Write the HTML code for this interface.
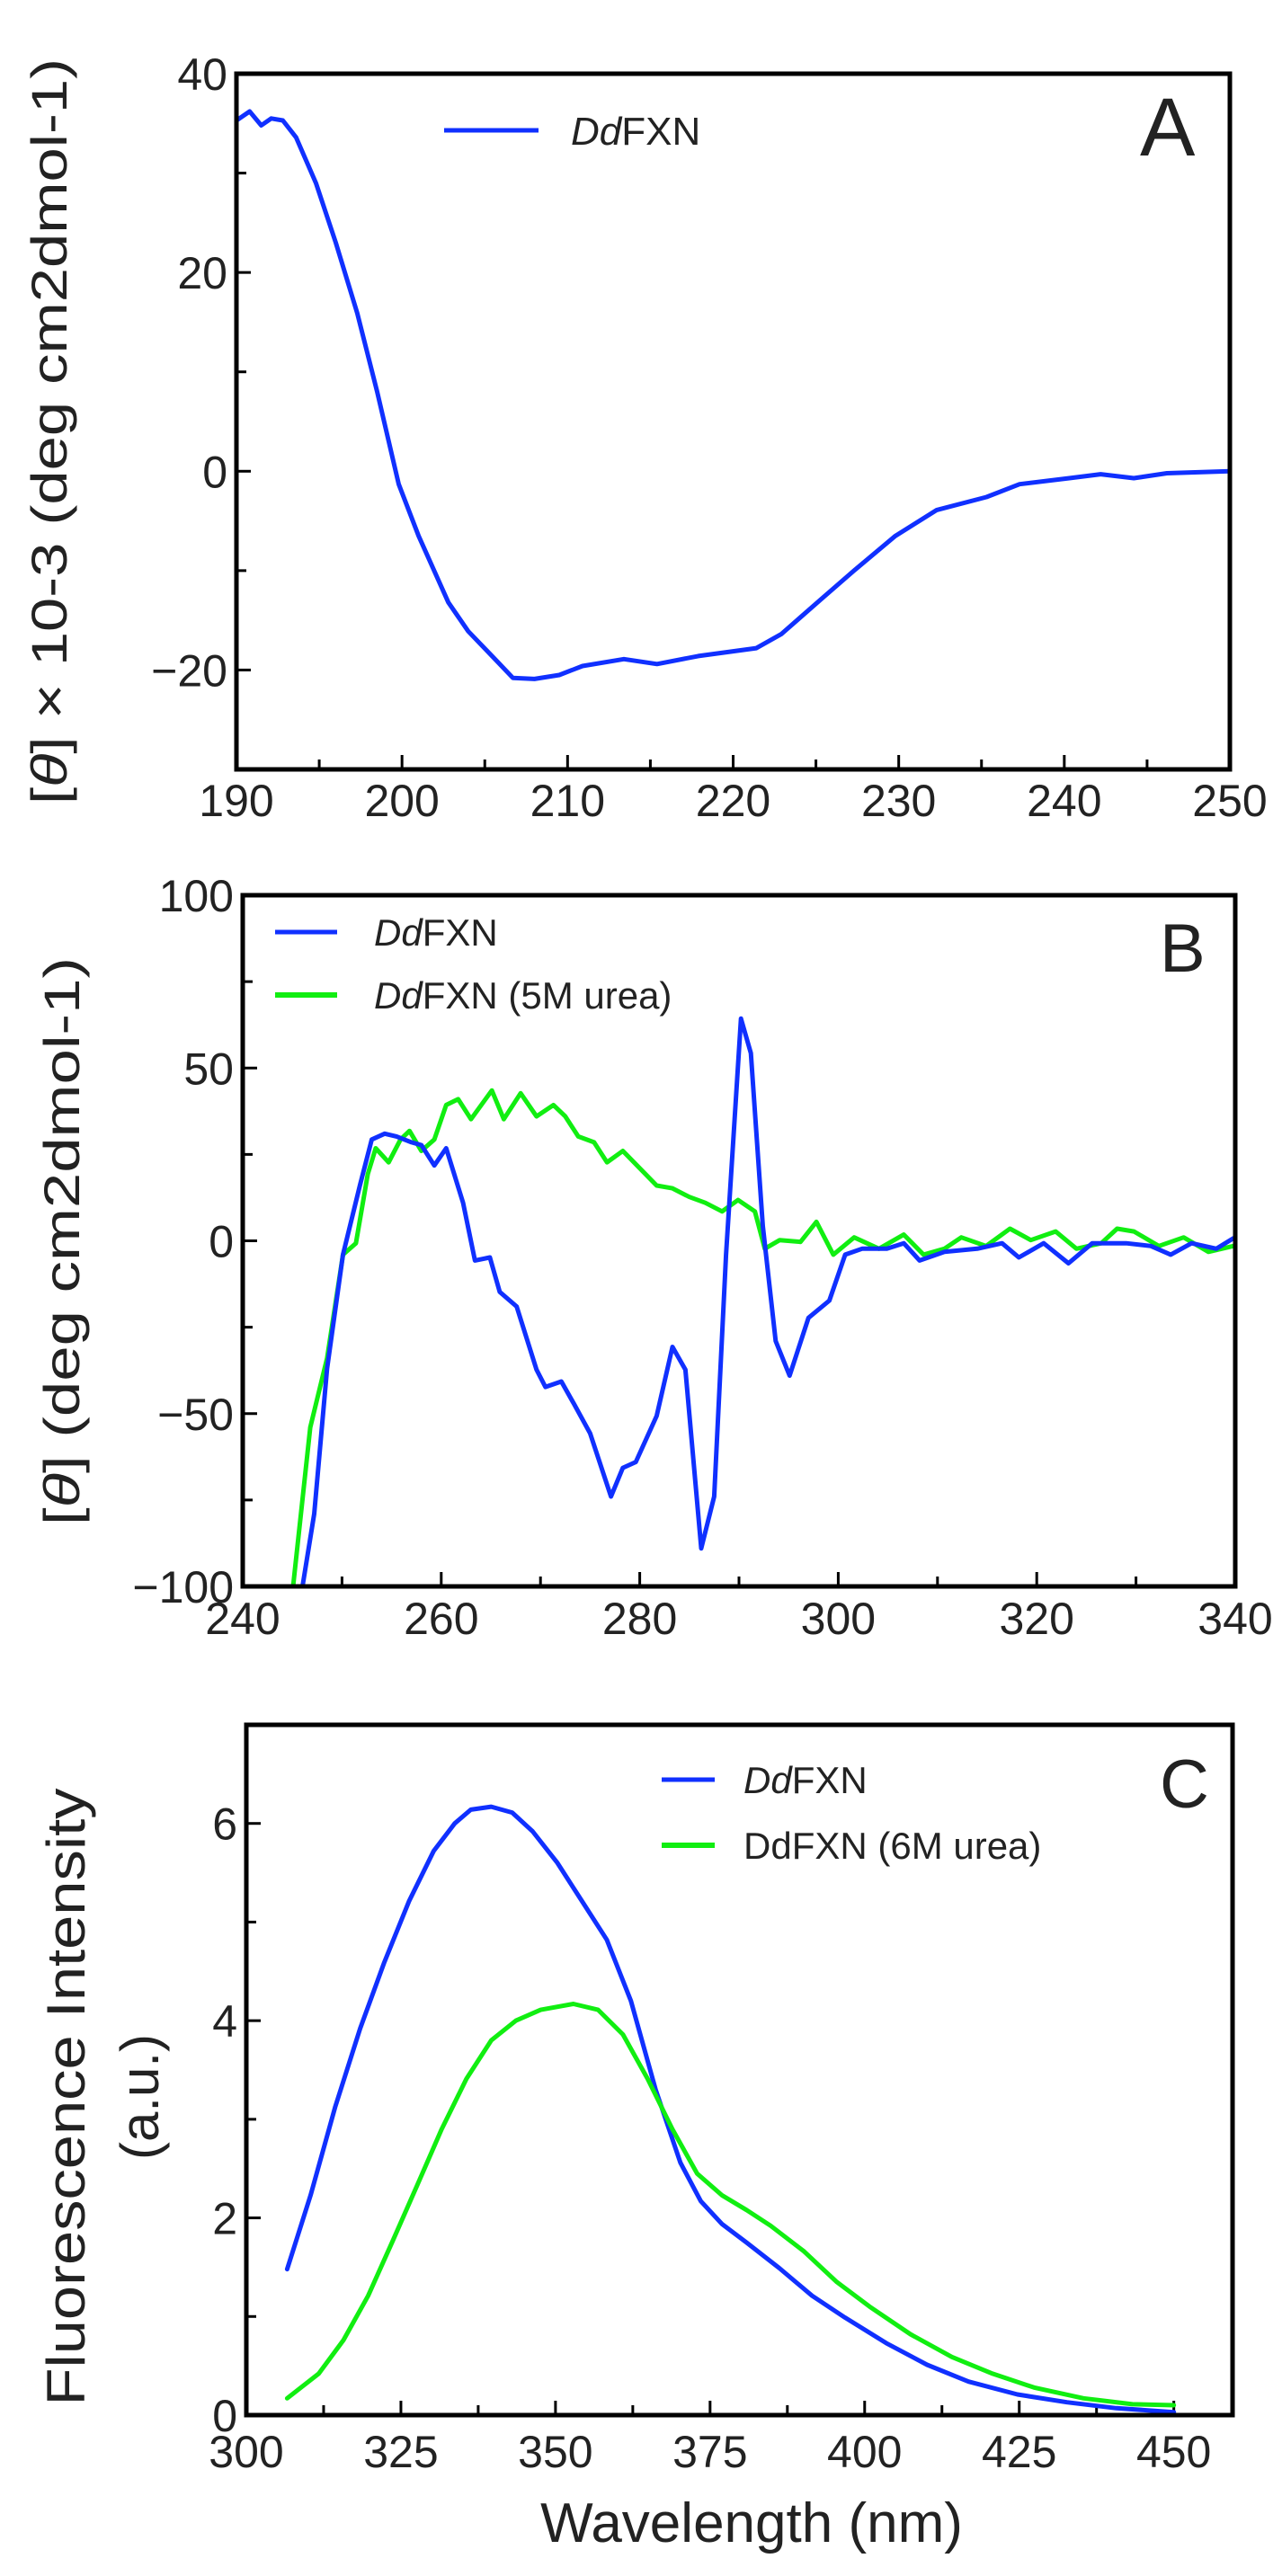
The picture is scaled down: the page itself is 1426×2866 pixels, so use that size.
<!DOCTYPE html>
<html><head><meta charset="utf-8">
<style>
html,body{margin:0;padding:0;background:#fff;}
svg{display:block;font-family:"Liberation Sans",Arial,sans-serif;}
</style></head>
<body>
<svg id="fig" width="1426" height="2866" viewBox="0 0 1426 2866" xmlns="http://www.w3.org/2000/svg">
<defs>
<clipPath id="clipA"><rect x="263" y="82" width="1105" height="774"/></clipPath>
<clipPath id="clipB"><rect x="270" y="996" width="1104" height="769"/></clipPath>
<clipPath id="clipC"><rect x="274" y="1919" width="1097" height="768"/></clipPath>
</defs>
</svg>
<script>
// Panel A data
const aX=[190,190.8,191.5,192.1,192.8,193.6,194.8,196,197.3,198.5,199.8,201,202.8,204,205.5,206.7,208,209.5,210.9,213.4,215.4,217.9,221.4,222.9,225.3,227.3,229.8,232.3,235.3,237.3,240.3,242.2,244.2,246.2,250];
const aY=[35.3,36.2,34.8,35.5,35.3,33.6,29,23,15.9,8,-1.3,-6.5,-13.2,-16.1,-18.7,-20.8,-20.9,-20.5,-19.6,-18.9,-19.4,-18.6,-17.8,-16.4,-12.9,-10,-6.5,-3.9,-2.6,-1.3,-0.7,-0.3,-0.7,-0.2,0];
const aXTicks=[190,200,210,220,230,240,250];
const aYTicks=[40,20,0,-20];
// Panel B data
const bBlueX=[245.8,247.2,248.5,250.1,251.8,253,254.3,255.5,257,258,259.3,260.5,262.2,263.4,264.9,265.9,267.6,269.6,270.5,272.1,273.4,275,277.1,278.3,279.6,281.7,283.3,284.6,286.2,287.5,288.7,290.2,291.2,292.4,293.7,295.1,297,299.1,300.7,302.4,304.9,306.6,308.2,310.7,314,316.5,318.2,320.7,323.2,325.6,329,331.5,333.5,335.6,338.1,339.8];
const bBlueY=[-104,-79,-37,-4,16,29.3,31,30.2,28.5,27.7,21.8,26.8,11,-5.7,-4.8,-14.8,-19,-37.3,-42.3,-40.7,-47.3,-55.7,-74,-65.7,-64,-50.7,-30.7,-37.3,-89,-74,-4,64.3,54.3,4.3,-29,-39,-22.3,-17.3,-4,-2.3,-2.3,-0.7,-5.7,-3.2,-2.3,-0.7,-4.8,-0.7,-6.5,-0.7,-0.7,-1.5,-4,-0.7,-2.3,0.7];
const bGreenX=[245,246.8,248.5,250.1,251.4,252.6,253.4,254.7,255.9,256.8,258,259.3,260.5,261.7,263,265.1,266.3,268,269.6,271.3,272.5,273.8,275.4,276.7,278.3,280,281.7,283.3,285,286.6,288.3,289.9,291.6,292.6,294.1,296.2,297.8,299.5,301.6,304.1,306.6,308.6,310.7,312.4,314.9,317.3,319.4,321.9,324,326.5,328.1,329.8,332.3,334.8,337.3,339.8];
const bGreenY=[-102,-54,-34,-4,-0.7,19.3,26.8,22.7,29.3,31.8,26,29.3,39.3,41,35.2,43.5,35.2,42.7,36,39.3,36,30.2,28.5,22.7,26,21,16,15.2,12.7,11,8.5,11.8,8.5,-2.3,0.2,-0.3,5.5,-4,1,-2.3,1.8,-4,-2.3,1,-1.5,3.5,0.2,2.7,-2.3,-0.7,3.5,2.7,-1.5,1,-3.2,-1.5];
const bXTicks=[240,260,280,300,320,340];
const bYTicks=[100,50,0,-50,-100];
// Panel C data
const cBlueX=[306.6,310.4,314.4,318.4,322.3,326.3,330.3,333.7,336.3,339.6,343,346.3,350.3,354.3,358.3,362.2,366.2,370.2,373.5,376.9,380.9,386.2,391.5,396.8,403.5,410.1,416.8,424.7,432.7,440.7,450];
const cBlueY=[1.48,2.23,3.13,3.92,4.59,5.21,5.72,6.0,6.14,6.17,6.11,5.92,5.6,5.21,4.82,4.2,3.3,2.56,2.17,1.94,1.75,1.49,1.21,0.99,0.73,0.51,0.34,0.21,0.13,0.07,0.03];
const cGreenX=[306.6,311.7,315.7,319.7,323.7,327.7,331.6,335.6,339.6,343.6,347.6,352.9,356.9,360.9,364.9,368.9,372.9,376.9,380.9,384.8,390.2,395.5,400.8,407.4,414.1,420.7,427.4,435.4,443.3,450];
const cGreenY=[0.17,0.42,0.76,1.21,1.77,2.34,2.9,3.41,3.8,4.0,4.11,4.17,4.11,3.86,3.41,2.9,2.45,2.23,2.08,1.92,1.66,1.35,1.1,0.82,0.59,0.42,0.28,0.17,0.11,0.1];
const cXTicks=[300,325,350,375,400,425,450];
const cYTicks=[0,2,4,6];

const NS='http://www.w3.org/2000/svg';
const svg=document.getElementById('fig');
function mk(tag,attrs,parent,text){
  const e=document.createElementNS(NS,tag);
  for(const k in attrs)e.setAttribute(k,attrs[k]);
  if(text!==undefined)e.textContent=text;
  (parent||svg).appendChild(e);return e;
}
function linScale(d0,d1,r0,r1){return v=>r0+(v-d0)/(d1-d0)*(r1-r0);}

function panel(p){
  const g=mk('g',{});
  
  
  const sx=linScale(p.xd[0],p.xd[1],p.L,p.R), sy=linScale(p.yd[0],p.yd[1],p.B,p.T);
  // minor ticks
  p.xMinor.forEach(v=>{const t=mk('line',{x1:sx(v),x2:sx(v),y1:p.B,y2:p.B-11,stroke:'#000','stroke-width':3},g);
    });
  p.yMinor.forEach(v=>{const t=mk('line',{x1:p.L,x2:p.L+11,y1:sy(v),y2:sy(v),stroke:'#000','stroke-width':3},g);
    });
  p.xTicks.forEach(v=>{
    const t=mk('line',{x1:sx(v),x2:sx(v),y1:p.B,y2:p.B-16,stroke:'#000','stroke-width':3},g);
    
    const l=mk('text',{x:sx(v),y:p.xLabY,'font-size':p.tickFs,'text-anchor':'middle',fill:'#222'},g,String(v));
    
  });
  p.yTicks.forEach(v=>{
    const t=mk('line',{x1:p.L,x2:p.L+16,y1:sy(v),y2:sy(v),stroke:'#000','stroke-width':3},g);
    
    const l=mk('text',{x:p.L-10,y:sy(v)+p.tickFs*0.36,'font-size':p.tickFs,'text-anchor':'end',fill:'#222'},g,(v<0?'\u2212'+(-v):String(v)));
    
  });
  p.series.forEach(s=>{
    const d=s.x.map((v,i)=>(i?'L':'M')+sx(v).toFixed(1)+','+sy(s.y[i]).toFixed(1)).join(' ');
    const path=mk('path',{d:d,fill:'none',stroke:s.color,'stroke-width':5,'stroke-linejoin':'round','stroke-linecap':'round','clip-path':'url(#'+p.clip+')'},g);
    
  });
  const fr=mk('rect',{x:p.L,y:p.T,width:p.R-p.L,height:p.B-p.T,fill:'none',stroke:'#000','stroke-width':5},g);
  
  return g;
}

panel({name:'panel-a',L:263,R:1368,T:82,B:856,xd:[190,250],yd:[-30,40],clip:'clipA',
  xTicks:aXTicks,yTicks:aYTicks,xMinor:[195,205,215,225,235,245],yMinor:[30,10,-10],
  tickFs:50,xLabY:908,series:[{name:'ddfxn-line-a',x:aX,y:aY,color:'#1030ff'}]});
panel({name:'panel-b',L:270,R:1374,T:996,B:1765,xd:[240,340],yd:[-100,100],clip:'clipB',
  xTicks:bXTicks,yTicks:bYTicks,xMinor:[250,270,290,310,330],yMinor:[75,25,-25,-75],
  tickFs:50,xLabY:1818,series:[{name:'ddfxn-urea-line-b',x:bGreenX,y:bGreenY,color:'#11ee11'},{name:'ddfxn-line-b',x:bBlueX,y:bBlueY,color:'#1030ff'}]});
panel({name:'panel-c',L:274,R:1371,T:1919,B:2687,xd:[300,459.5],yd:[0,7],clip:'clipC',
  xTicks:cXTicks,yTicks:cYTicks,xMinor:[312.5,337.5,362.5,387.5,412.5,437.5],yMinor:[1,3,5],
  tickFs:50,xLabY:2745,series:[{name:'ddfxn-line-c',x:cBlueX,y:cBlueY,color:'#1030ff'},{name:'ddfxn-urea-line-c',x:cGreenX,y:cGreenY,color:'#11ee11'}]});
</script>
<svg style="position:absolute;left:0;top:0" width="1426" height="2866">
 <g font-family="Liberation Sans, Arial, sans-serif" fill="#222">
  <text transform="translate(74,480) rotate(-90)" font-size="56" text-anchor="middle" textLength="830" lengthAdjust="spacingAndGlyphs">[<tspan font-style="italic">θ</tspan>] × 10-3 (deg cm2dmol-1)</text>
  <line x1="494" y1="145" x2="599" y2="145" stroke="#1030ff" stroke-width="5"/>
  <text x="635" y="161" font-size="44"><tspan font-style="italic">Dd</tspan>FXN</text>
  <text x="1268" y="173" font-size="92">A</text>

  <text transform="translate(88,1381) rotate(-90)" font-size="56" text-anchor="middle" textLength="632" lengthAdjust="spacingAndGlyphs">[<tspan font-style="italic">θ</tspan>] (deg cm2dmol-1)</text>
  <line x1="306" y1="1037" x2="375" y2="1037" stroke="#1030ff" stroke-width="5"/>
  <text x="416" y="1052" font-size="42"><tspan font-style="italic">Dd</tspan>FXN</text>
  <line x1="306" y1="1107" x2="375" y2="1107" stroke="#11ee11" stroke-width="6"/>
  <text x="416" y="1122" font-size="42"><tspan font-style="italic">Dd</tspan>FXN (5M urea)</text>
  <text x="1290" y="1081" font-size="76">B</text>

  <text transform="translate(94,2333) rotate(-90)" font-size="60" text-anchor="middle" textLength="687" lengthAdjust="spacingAndGlyphs">Fluorescence Intensity</text>
  <text transform="translate(176,2333) rotate(-90)" font-size="60" text-anchor="middle">(a.u.)</text>
  <line x1="736" y1="1980" x2="795" y2="1980" stroke="#1030ff" stroke-width="5"/>
  <text x="827" y="1995" font-size="42"><tspan font-style="italic">Dd</tspan>FXN</text>
  <line x1="736" y1="2053" x2="795" y2="2053" stroke="#11ee11" stroke-width="6"/>
  <text x="827" y="2068" font-size="42">DdFXN (6M urea)</text>
  <text x="1290" y="2011" font-size="76">C</text>
  <text x="836" y="2828" font-size="62" text-anchor="middle">Wavelength (nm)</text>
 </g>
</svg>
</body></html>
